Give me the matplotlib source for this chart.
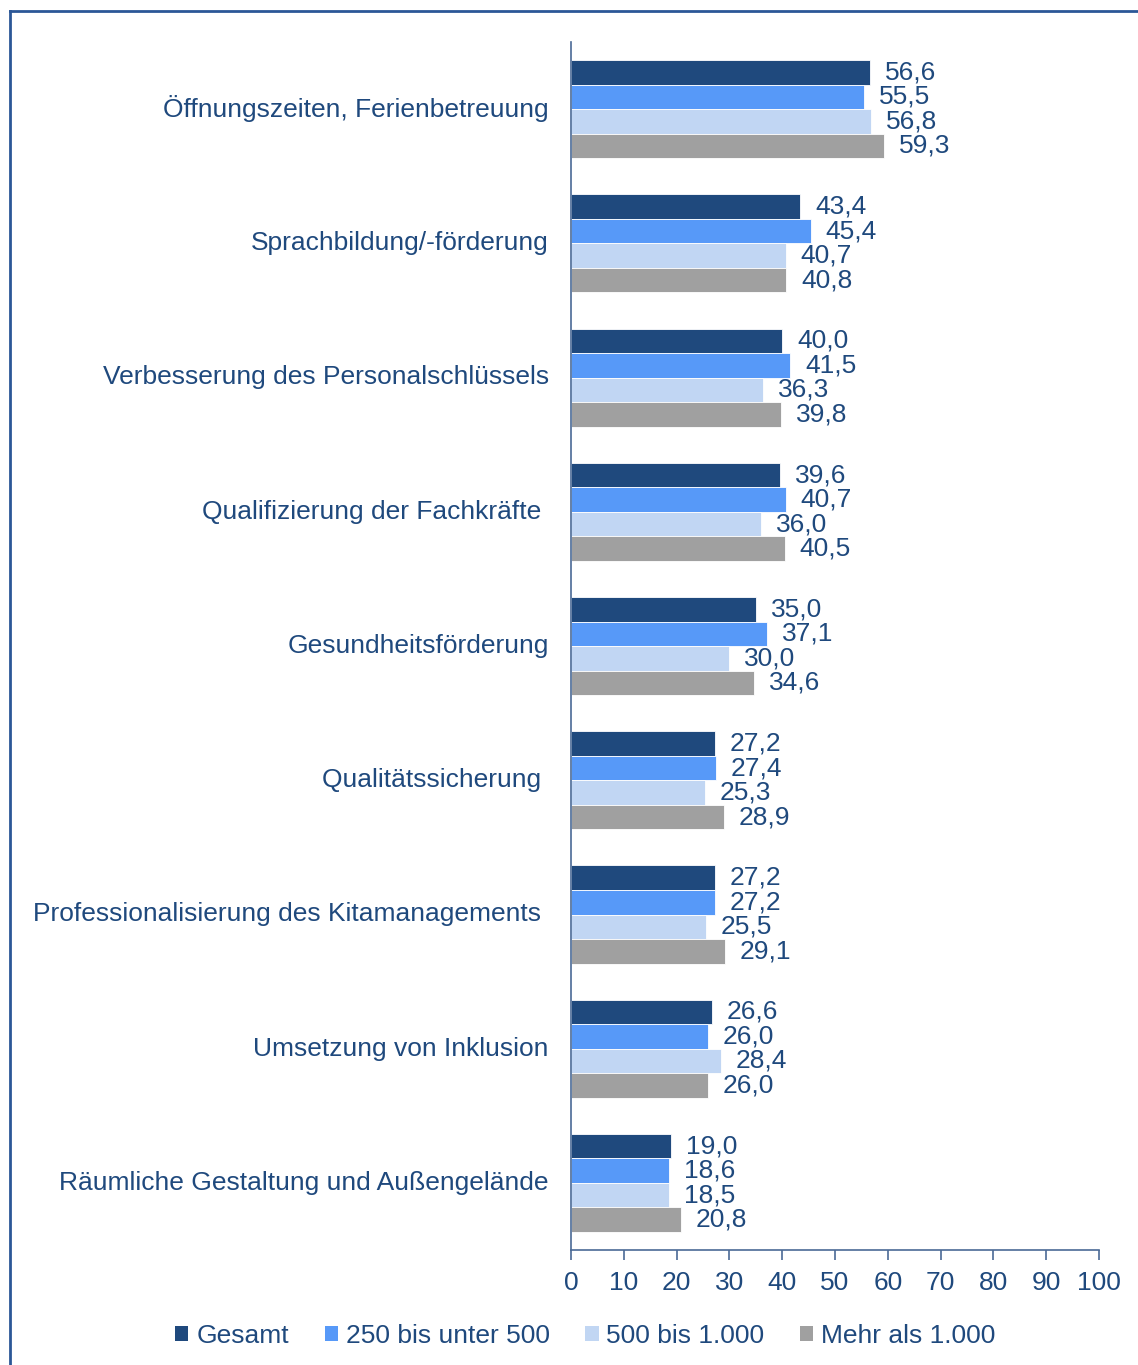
import matplotlib.pyplot as plt
import numpy as np
from matplotlib.patches import Patch
from matplotlib.lines import Line2D

plt.rcParams['font.family'] = ['Liberation Sans', 'DejaVu Sans']

# Kategorien (von oben nach unten)
kategorien = ['Öffnungszeiten, Ferienbetreuung',
              'Sprachbildung/-förderung',
              'Verbesserung des Personalschlüssels',
              'Qualifizierung der Fachkräfte ',
              'Gesundheitsförderung',
              'Qualitätssicherung ',
              'Professionalisierung des Kitamanagements ',
              'Umsetzung von Inklusion',
              'Räumliche Gestaltung und Außengelände']

gesamt = [56.6, 43.4, 40.0, 39.6, 35.0, 27.2, 27.2, 26.6, 19.0]
bis500 = [55.5, 45.4, 41.5, 40.7, 37.1, 27.4, 27.2, 26.0, 18.6]
bis1000 = [56.8, 40.7, 36.3, 36.0, 30.0, 25.3, 25.5, 28.4, 18.5]
mehr1000 = [59.3, 40.8, 39.8, 40.5, 34.6, 28.9, 29.1, 26.0, 20.8]

serien = ['Gesamt', '250 bis unter 500', '500 bis 1.000', 'Mehr als 1.000']
farben = ['#1F497D', '#5799F8', '#C1D6F3', '#A0A0A0']
textfarbe = '#1F497D'

fig = plt.figure(figsize=(11.38, 13.65), dpi=100)
ax = fig.add_axes([0.5018, 0.0842, 0.4640, 0.8850])

y = np.arange(len(kategorien))
h = 0.1826
werte = [gesamt, bis500, bis1000, mehr1000]
for i, (w, f) in enumerate(zip(werte, farben)):
    pos = y + (i - 1.5) * h
    ax.barh(pos, w, height=h, color=f, edgecolor='white', linewidth=0.6)
    for p, v in zip(pos, w):
        ax.text(v + 2.8, p, f'{v:.1f}'.replace('.', ','), va='center', ha='left',
                fontsize=19, color=textfarbe)

ax.set_ylim(len(kategorien) - 0.5, -0.5)
ax.set_xlim(0, 100)
ax.set_xticks(np.arange(0, 101, 10))
ax.set_yticks(y - 0.02)
ax.set_yticklabels(kategorien, fontsize=19, color=textfarbe)
ax.tick_params(axis='y', length=0, pad=16)
ax.tick_params(axis='x', length=7, width=1.2, color='#4A6A96', labelsize=19,
               labelcolor=textfarbe, pad=8, direction='out')

for s in ['top', 'right']:
    ax.spines[s].set_visible(False)
for s in ['left', 'bottom']:
    ax.spines[s].set_color('#4A6A96')
    ax.spines[s].set_linewidth(1.2)

handles = [Patch(facecolor=f, edgecolor='none', label=s) for s, f in zip(serien, farben)]
fig.legend(handles=handles, loc='center', bbox_to_anchor=(0.5145, 0.0212), ncol=4,
           frameon=False, fontsize=19, labelcolor=textfarbe, handlelength=0.5,
           handleheight=0.5, handletextpad=0.3, columnspacing=1.35)

# Rahmen oben und links
fig.add_artist(Line2D([10 / 1138, 1.0], [1 - 11 / 1365, 1 - 11 / 1365],
                      transform=fig.transFigure, color='#2B5797', linewidth=2))
fig.add_artist(Line2D([10 / 1138, 10 / 1138], [0.0, 1 - 11 / 1365],
                      transform=fig.transFigure, color='#2B5797', linewidth=2))

fig.savefig('out.png', dpi=100)
